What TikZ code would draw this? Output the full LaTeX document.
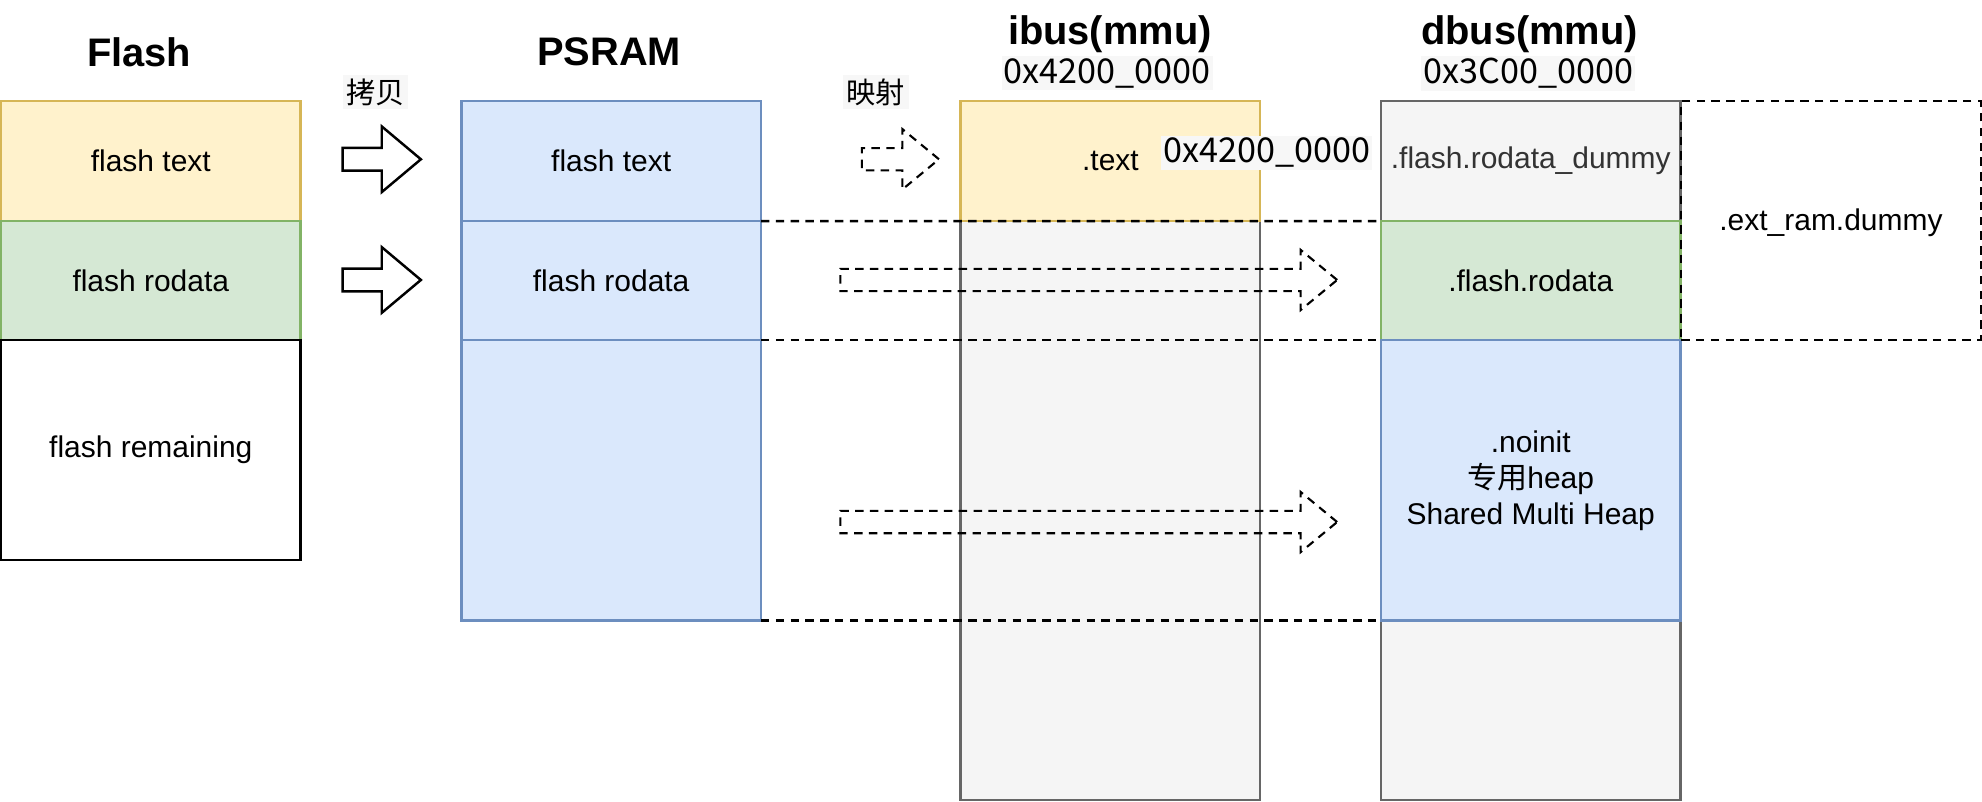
\documentclass[tikz,border=0pt]{standalone}
\usepackage{fontspec}
\setmainfont{Liberation Sans}
\newfontfamily\cjk{Noto Sans CJK SC}
\usetikzlibrary{shapes.arrows}

\definecolor{textfill}{HTML}{FFF2CC}
\definecolor{textline}{HTML}{D6B656}
\definecolor{rodfill}{HTML}{D5E8D4}
\definecolor{rodline}{HTML}{82B366}
\definecolor{ramfill}{HTML}{DAE8FC}
\definecolor{ramline}{HTML}{6C8EBF}
\definecolor{busfill}{HTML}{F5F5F5}
\definecolor{busline}{HTML}{666666}
\definecolor{dummytext}{HTML}{333333}
\definecolor{labelbg}{HTML}{F7F7F7}

\def\pxu{0.0126cm}

\begin{document}
\begin{tikzpicture}[x=\pxu, y=-\pxu, line width=0.7pt]
  \tikzset{box/.style={rectangle, draw, inner sep=0pt, outer sep=0pt,
      minimum width=237*\pxu, align=center,
      font=\fontsize{8.5}{10.2}\selectfont}}
  \tikzset{title/.style={font=\bfseries\fontsize{11.3}{13.6}\selectfont, inner sep=0pt}}
  \tikzset{addr/.style={fill=labelbg, inner sep=0.6pt, font=\cjk\fontsize{9.7}{11.6}\selectfont}}
  \tikzset{tag/.style={fill=labelbg, inner sep=1pt, font=\cjk\fontsize{8.3}{10}\selectfont}}
  \tikzset{guide/.style={dash pattern=on 2.4pt off 1.8pt}}
  \tikzset{copyarrow/.style={single arrow, draw, fill=white, inner xsep=0pt,
      inner ysep=8*\pxu, single arrow head extend=17*\pxu,
      single arrow tip angle=80, anchor=tail}}
  \tikzset{maparrow/.style={single arrow, draw, guide, line width=0.6pt, inner xsep=0pt,
      inner ysep=8*\pxu, single arrow head extend=15*\pxu,
      single arrow tip angle=79, anchor=tail}}

  \useasboundingbox (0,0) rectangle (1568,634);

  % Flash
  \node[title] (flashT) at (110,41) {Flash};
  \node[box, fill=textfill, draw=textline, minimum height=95*\pxu] (ftext) at (119.3,127.5) {flash text};
  \node[box, fill=rodfill, draw=rodline, minimum height=94*\pxu] (frod) at (119.3,222) {flash rodata};
  \node[box, fill=white, draw=black, line width=0.8pt, minimum height=174*\pxu] (frem) at (119.3,356) {flash remaining};

  % PSRAM
  \node[title] (psramT) at (482,41) {PSRAM};
  \node[box, fill=ramfill, draw=ramline, minimum height=95*\pxu] (ptext) at (483.5,127.5) {flash text};
  \node[box, fill=ramfill, draw=ramline, minimum height=94*\pxu] (prod) at (483.5,222) {flash rodata};
  \node[box, fill=ramfill, draw=ramline, minimum height=222*\pxu] (pfree) at (483.5,380) {};

  % ibus
  \node[title] (ibusT) at (878,27) {ibus(mmu)};
  \node[addr] (ibusA) at (876,58) {0x4200\_0000};
  \node[box, fill=busfill, draw=busline, minimum height=458*\pxu] (ibody) at (878.5,404) {};
  \node[box, fill=textfill, draw=textline, minimum height=95*\pxu] (itext) at (878.5,127.5) {.text};

  % dbus
  \node[title] (dbusT) at (1210,27) {dbus(mmu)};
  \node[addr] (dbusA) at (1209,58) {0x3C00\_0000};
  \node[box, fill=busfill, draw=busline, text=dummytext, minimum height=95*\pxu] (ddummy) at (1211,127.5) {.flash.rodata\_dummy};
  \node[box, fill=rodfill, draw=rodline, minimum height=94*\pxu] (drod) at (1211,222) {.flash.rodata};
  \node[box, fill=busfill, draw=busline, minimum height=142*\pxu] (drest) at (1211,562) {};
  \node[box, fill=ramfill, draw=ramline, minimum height=222*\pxu] (dheap) at (1211,380) {.noinit\\{\cjk 专用}heap\\Shared Multi Heap};
  \node[box, draw=black, guide, minimum height=189*\pxu] (extram) at (1448.5,174.5) {};
  \node[font=\fontsize{8.5}{10.2}\selectfont] (extL) at (1448.5,176.5) {.ext\_ram.dummy};

  % mapping guides
  \draw[guide] (ptext.south east) -- (drod.north west);
  \draw[guide] (prod.south east) -- (dheap.north west);
  \draw[guide] (pfree.south east) -- (dheap.south west);

  % arrows
  \node[tag] (copyL) at (297,73) {拷贝};
  \node[copyarrow, minimum height=62*\pxu] (cp1) at (270,126) {};
  \node[copyarrow, minimum height=62*\pxu] (cp2) at (270,221.5) {};
  \node[tag] (mapL) at (693,73) {映射};
  \node[maparrow, minimum height=61*\pxu] (mp1) at (681,126) {};
  \node[maparrow, minimum height=393*\pxu] (mp2) at (664,221.5) {};
  \node[maparrow, minimum height=393*\pxu] (mp3) at (664,413) {};

  \node[addr] (textA) at (1002,121) {0x4200\_0000};
\end{tikzpicture}
\end{document}
